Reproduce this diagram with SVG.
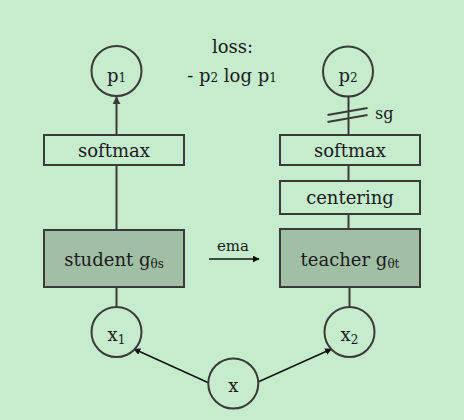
<svg xmlns="http://www.w3.org/2000/svg" width="464" height="420" viewBox="0 0 464 420">
<defs>
<style>
.bg{fill:#c6ecce}
.ln{stroke:#3a3a3a;stroke-width:2;fill:none}
.box{fill:#c6ecce;stroke:#3a3a3a;stroke-width:2}
.net{fill:#a1bfa4;stroke:#3a3a3a;stroke-width:2}
.arr{stroke:#111;stroke-width:1.4;fill:none}
.t{font-family:'DejaVu Serif','Liberation Serif',serif;fill:#1a1a1a;font-size:18px}
.c{text-anchor:middle}
.sm{font-size:12px}
</style>
<marker id="ah" viewBox="0 0 10 10" refX="9" refY="5" markerWidth="7" markerHeight="7" orient="auto" markerUnits="userSpaceOnUse">
<path d="M0,0 L10,5 L0,10 z" fill="#111"/>
</marker>
<marker id="ah2" viewBox="0 0 10 10" refX="9" refY="5" markerWidth="8" markerHeight="8" orient="auto" markerUnits="userSpaceOnUse">
<path d="M0,0 L10,5 L0,10 z" fill="#3a3a3a"/>
</marker>
</defs>
<rect class="bg" x="0" y="0" width="464" height="420"/>
<g id="connectors">
<line class="ln" x1="116.5" y1="135" x2="116.5" y2="97" marker-end="url(#ah2)"/>
<line class="ln" x1="116.5" y1="165" x2="116.5" y2="230"/>
<line class="ln" x1="116.5" y1="287" x2="116.5" y2="307"/>
<line class="ln" x1="348.5" y1="96" x2="348.5" y2="135"/>
<line class="ln" x1="348.5" y1="165" x2="348.5" y2="181"/>
<line class="ln" x1="348.5" y1="214" x2="348.5" y2="229"/>
<line class="ln" x1="349.5" y1="287" x2="349.5" y2="307"/>
<line class="ln" x1="327.5" y1="115" x2="367.5" y2="108"/>
<line class="ln" x1="327.5" y1="122" x2="367.5" y2="115"/>
<line class="arr" x1="209" y1="383" x2="134" y2="349" marker-end="url(#ah)"/>
<line class="arr" x1="258" y1="382" x2="331.5" y2="349" marker-end="url(#ah)"/>
<line class="arr" x1="209" y1="259" x2="259" y2="259" marker-end="url(#ah)"/>
</g>
<g id="p1"><circle class="box" cx="116.5" cy="71" r="25"/><text class="t c" x="116.5" y="82">p<tspan class="sm">1</tspan></text></g>
<g id="p2"><circle class="box" cx="348" cy="71.5" r="25"/><text class="t c" x="348" y="82">p<tspan class="sm">2</tspan></text></g>
<g id="loss"><text class="t c" x="232.5" y="53">loss:</text><text class="t c" x="232" y="82">- p<tspan class="sm">2</tspan> log p<tspan class="sm">1</tspan></text></g>
<g id="sg"><text class="t" x="375" y="119" style="font-size:16px">sg</text></g>
<g id="softmax1"><rect class="box" x="44" y="135" width="140" height="30"/><text class="t c" x="114" y="157">softmax</text></g>
<g id="softmax2"><rect class="box" x="280" y="135" width="140" height="30"/><text class="t c" x="350" y="157">softmax</text></g>
<g id="centering"><rect class="box" x="280" y="181" width="140" height="33"/><text class="t c" x="350" y="204">centering</text></g>
<g id="student"><rect class="net" x="44" y="230" width="140" height="57"/><text class="t c" x="114" y="266">student g<tspan class="sm" dy="2">θs</tspan></text></g>
<g id="teacher"><rect class="net" x="280" y="229" width="140" height="58"/><text class="t c" x="350" y="266">teacher g<tspan class="sm" dy="2">θt</tspan></text></g>
<g id="ema"><text class="t c" x="233" y="251" style="font-size:15px">ema</text></g>
<g id="x1"><circle class="box" cx="116.5" cy="332" r="25"/><text class="t c" x="116.5" y="341">x<tspan class="sm" dy="3">1</tspan></text></g>
<g id="x2"><circle class="box" cx="349.5" cy="332" r="25"/><text class="t c" x="349.5" y="341">x<tspan class="sm" dy="3">2</tspan></text></g>
<g id="x"><circle class="box" cx="233.3" cy="383.5" r="25"/><text class="t c" x="233.3" y="392">x</text></g>
</svg>
